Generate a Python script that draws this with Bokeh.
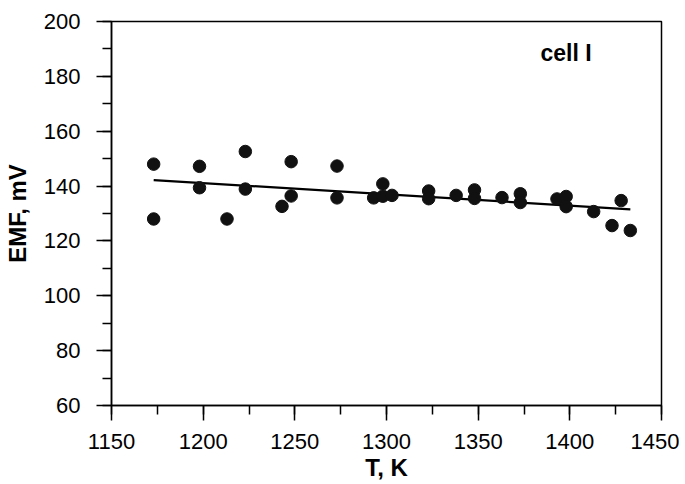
from bokeh.plotting import figure
from bokeh.models import Range1d, SingleIntervalTicker, Label
from bokeh.embed import file_html
from bokeh.resources import INLINE

# data
T = [1173, 1173, 1198, 1198, 1213, 1223, 1223, 1243, 1248, 1248,
     1273, 1273, 1293, 1298, 1298, 1303, 1323, 1323, 1338, 1348,
     1348, 1363, 1373, 1373, 1393, 1398, 1398, 1413, 1423, 1428, 1433]
EMF = [148.0, 128.0, 147.2, 139.4, 128.0, 152.6, 138.9, 132.6, 148.9, 136.4,
       147.3, 135.7, 135.7, 140.8, 136.3, 136.6, 138.2, 135.4, 136.6, 138.6,
       135.5, 135.8, 137.2, 134.0, 135.3, 136.2, 132.5, 130.7, 125.6, 134.7, 123.8]
fit_T = [1173, 1433]
fit_EMF = [142.2, 131.5]

FONT = "Liberation Sans"

p = figure(width=677, height=476, output_backend="svg", toolbar_location=None,
           x_range=Range1d(1150, 1450), y_range=Range1d(60, 200),
           min_border_left=109, min_border_right=18, min_border_top=21,
           min_border_bottom=71, frame_width=550, frame_height=384)

p.line(fit_T, fit_EMF, line_color="black", line_width=2.2)
p.scatter(T, EMF, size=12.5, fill_color="#111111", line_color="#111111")

p.xgrid.visible = False
p.ygrid.visible = False
p.outline_line_color = "black"
p.outline_line_width = 1.5
p.background_fill_color = "white"

p.xaxis.ticker = SingleIntervalTicker(interval=50, num_minor_ticks=2)
p.yaxis.ticker = SingleIntervalTicker(interval=20, num_minor_ticks=2)

for ax in (p.xaxis[0], p.yaxis[0]):
    ax.axis_line_width = 1.5
    ax.axis_line_color = "black"
    ax.major_tick_line_width = 1.5
    ax.minor_tick_line_width = 1.5
    ax.major_tick_out = 15
    ax.major_tick_in = 0
    ax.minor_tick_out = 9
    ax.minor_tick_in = 0
    ax.major_label_text_font = FONT
    ax.major_label_text_font_size = "22px"
    ax.major_label_text_color = "black"
    ax.axis_label_text_font = FONT
    ax.axis_label_text_font_size = "24px"
    ax.axis_label_text_font_style = "bold"
    ax.axis_label_text_color = "black"

p.xaxis.axis_label = "T, K"
p.yaxis.axis_label = "EMF, mV"
p.xaxis.major_label_standoff = 13
p.xaxis.axis_label_standoff = 2
p.yaxis.major_label_standoff = 16
p.yaxis.axis_label_standoff = 10

p.add_layout(Label(x=1384, y=188.5, text="cell I", text_font=FONT,
                   text_font_size="23px", text_font_style="bold",
                   text_color="black", text_baseline="alphabetic"))

open("out.html", "w").write(file_html(p, INLINE))
